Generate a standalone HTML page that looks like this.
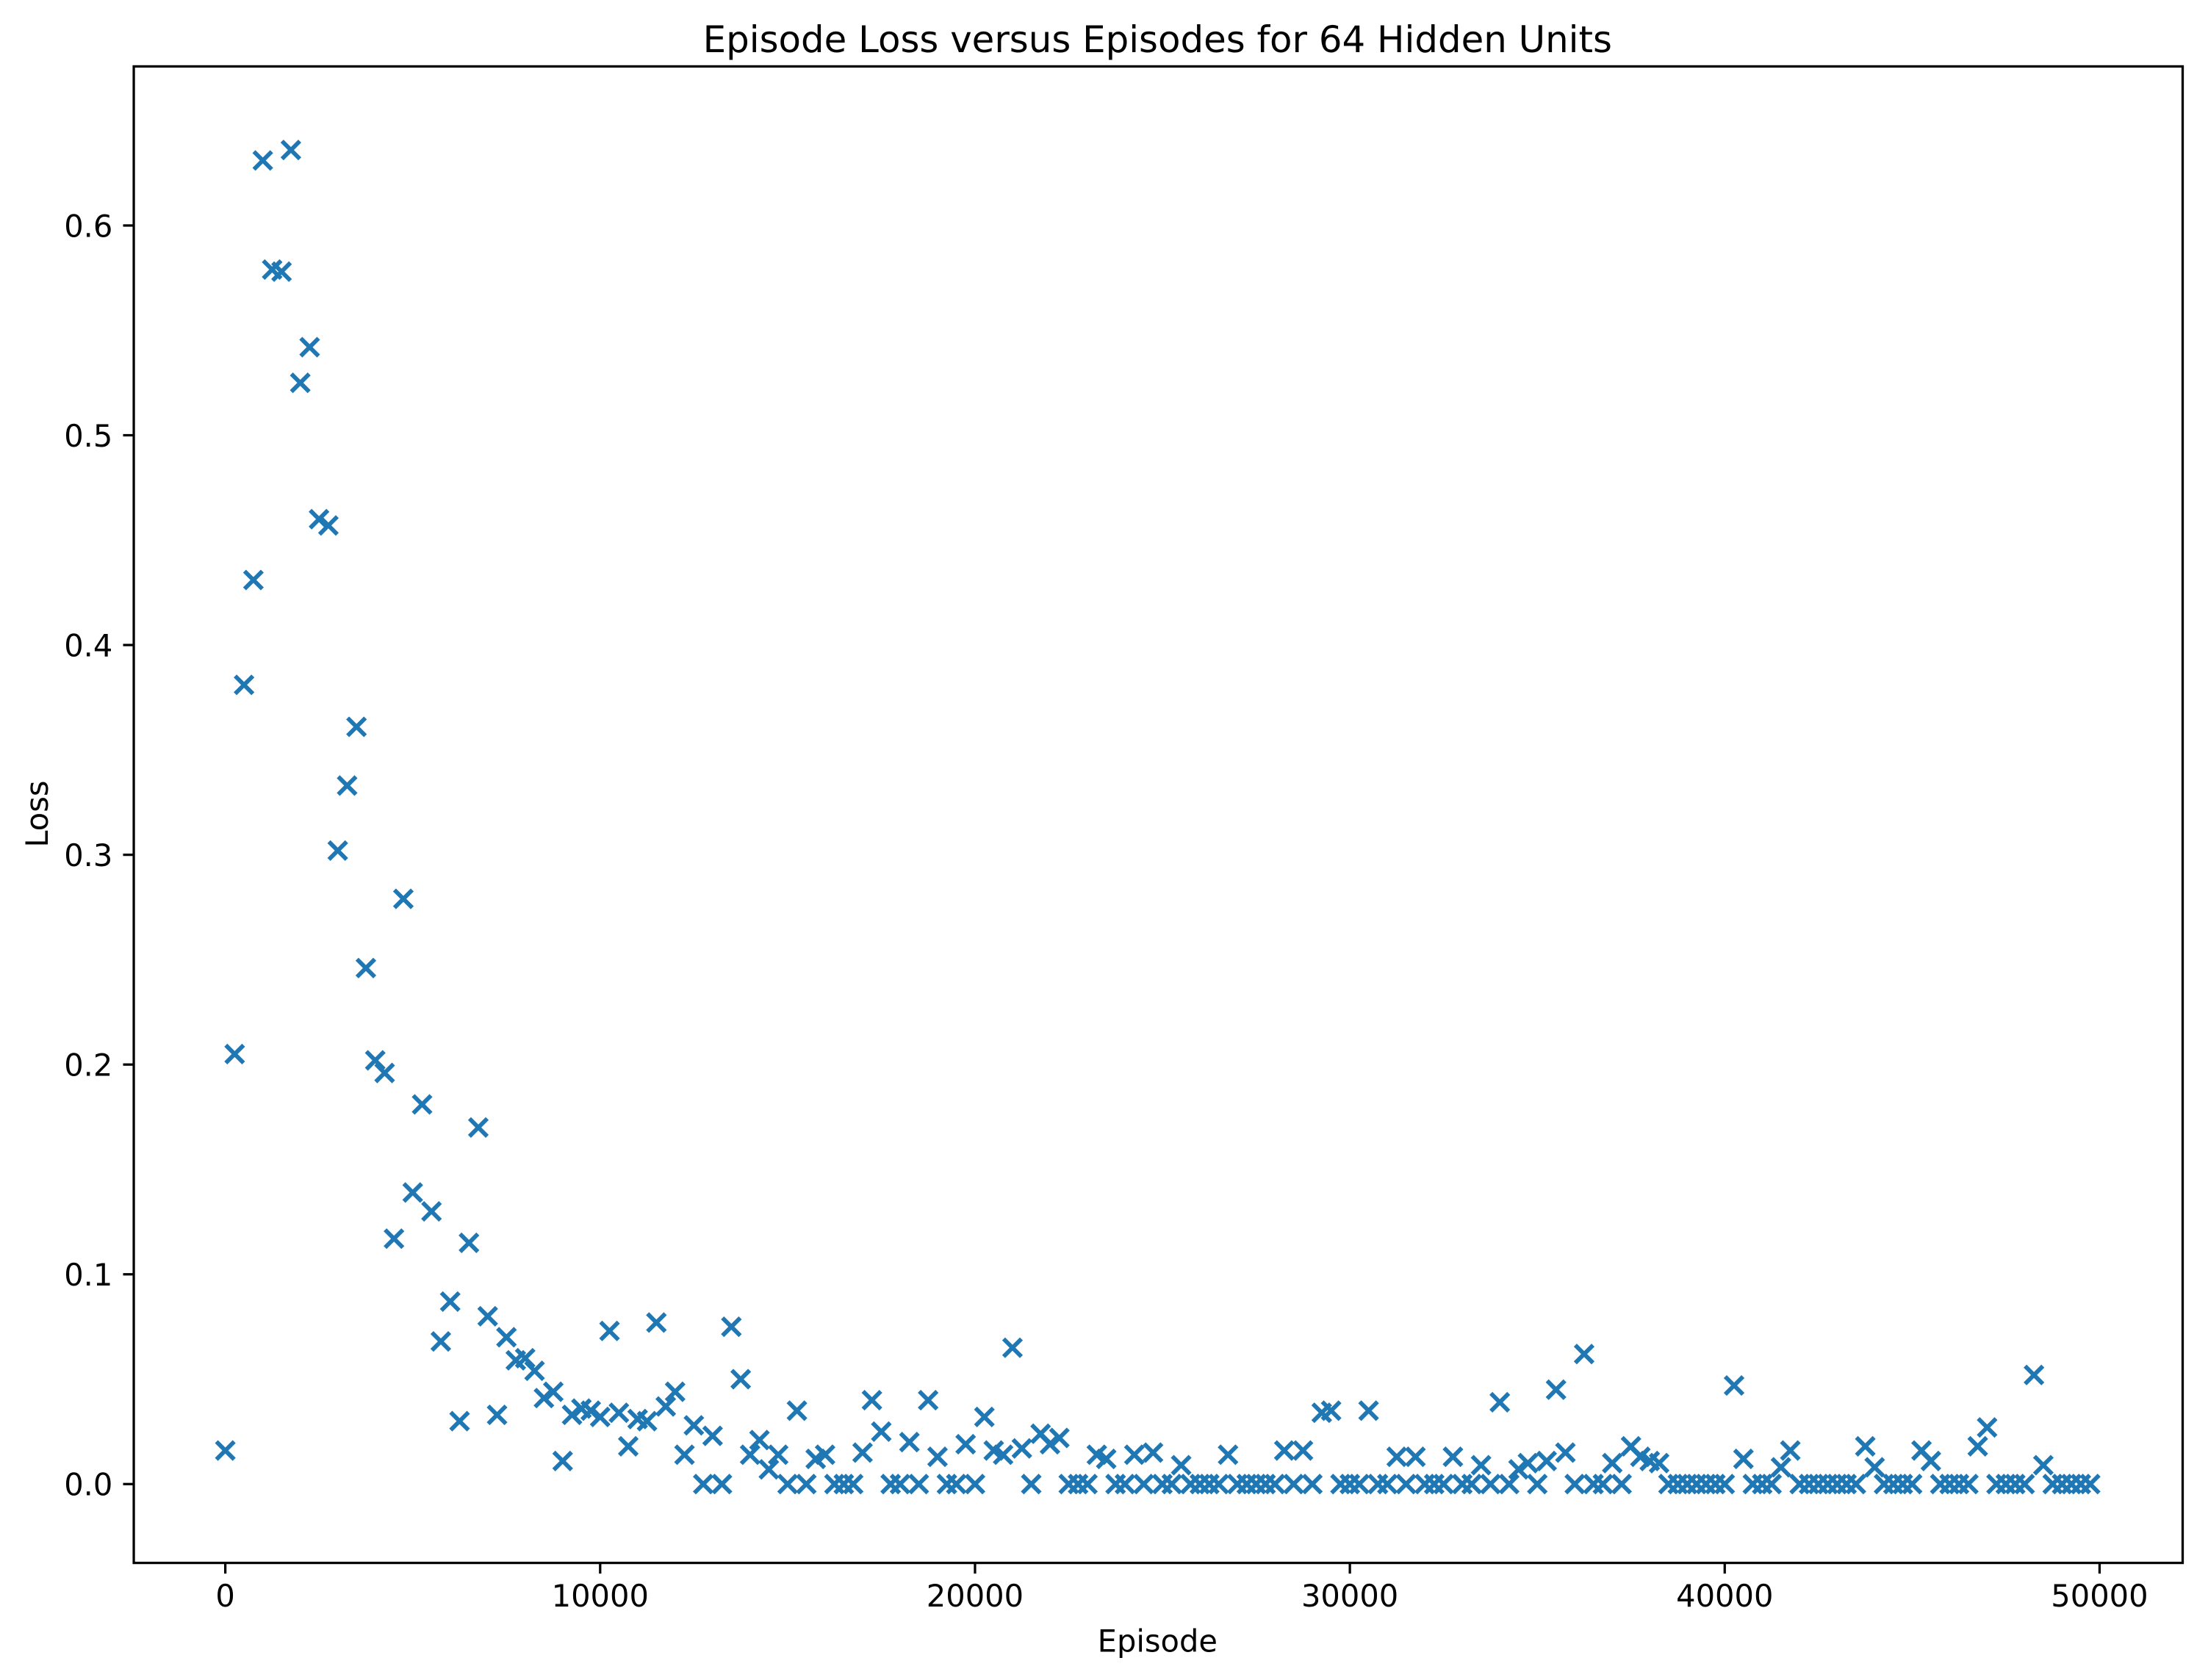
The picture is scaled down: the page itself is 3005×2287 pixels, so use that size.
<!DOCTYPE html>
<html><head><meta charset="utf-8"><style>
html,body{margin:0;padding:0;background:#fff}
svg{display:block}
text{font-family:"DejaVu Sans","Liberation Sans",sans-serif;fill:#000}
</style></head><body>
<svg id="chart" width="3005" height="2287" viewBox="0 0 1568 1193" xmlns="http://www.w3.org/2000/svg">
<rect width="1568" height="1193" fill="#fff"/>
<text x="822" y="37" font-size="26" text-anchor="middle">Episode Loss versus Episodes for 64 Hidden Units</text>
<g id="plot"></g>
<rect x="95" y="47" width="1455" height="1063" fill="none" stroke="#000" stroke-width="1.7"/>
<text x="822" y="1173" font-size="21.7" text-anchor="middle">Episode</text>
<text x="0" y="0" font-size="21.7" text-anchor="middle" transform="translate(34,578) rotate(-90)">Loss</text>
</svg>
<script>
const xTicks = [0, 10000, 20000, 30000, 40000, 50000];
const yTicks = [0.0, 0.1, 0.2, 0.3, 0.4, 0.5, 0.6];
const yTickLabels = ["0.0", "0.1", "0.2", "0.3", "0.4", "0.5", "0.6"];
const episodeStep = 250;
const lossValues = [
.016,.205,.381,.431,.631,.579,.578,.636,.525,.542,
.46,.457,.302,.333,.361,.246,.202,.196,.117,.279,
.139,.181,.130,.068,.087,.030,.115,.170,.080,.033,
.070,.059,.060,.054,.041,.044,.011,.033,.036,.035,
.032,.073,.034,.018,.031,.030,.077,.037,.044,.014,
.028,0,.023,0,.075,.050,.014,.021,.007,.014,
0,.035,0,.012,.014,0,0,0,.015,.040,
.025,0,0,.020,0,.040,.013,0,0,.019,
0,.032,.016,.014,.065,.017,0,.024,.019,.022,
0,0,0,.014,.012,0,0,.014,0,.015,
0,0,.009,0,0,0,0,.014,0,0,
0,0,0,.016,0,.016,0,.034,.035,0,
0,0,.035,0,0,.013,0,.013,0,0,
0,.013,0,0,.009,0,.039,0,.007,.010,
0,.011,.045,.015,0,.062,0,0,.010,0,
.018,.013,.011,.010,0,0,0,0,0,0,
0,.047,.012,0,0,0,.008,.016,0,0,
0,0,0,0,0,.018,.008,0,0,0,
0,.016,.011,0,0,0,0,.018,.027,0,
0,0,0,.052,.009,0,0,0,0,0
];
const NS = "http://www.w3.org/2000/svg";
const xScale = v => 160 + (v / 50000) * (1491 - 160);
const yScale = v => 1054 - (v / 0.6) * (1054 - 160);
const g = document.getElementById('plot');
function mk(tag, attrs) { const e = document.createElementNS(NS, tag); for (const k in attrs) e.setAttribute(k, attrs[k]); return e; }
xTicks.forEach(t => {
  const x = xScale(t);
  const l = mk('line', {x1: x, x2: x, y1: 1110, y2: 1117.6, stroke: '#000', 'stroke-width': 1.7});
  
  
  g.appendChild(l);
  const tx = mk('text', {x: x, y: 1141, 'font-size': 21.7, 'text-anchor': 'middle'});
  
  
  tx.textContent = String(t);
  g.appendChild(tx);
});
yTicks.forEach((t, i) => {
  const y = yScale(t);
  const l = mk('line', {x1: 87.4, x2: 95, y1: y, y2: y, stroke: '#000', 'stroke-width': 1.7});
  
  
  g.appendChild(l);
  const tx = mk('text', {x: 80, y: y + 8, 'font-size': 21.7, 'text-anchor': 'end'});
  
  
  tx.textContent = yTickLabels[i];
  g.appendChild(tx);
});
const s = 6.3;
lossValues.forEach((v, i) => {
  const cx = xScale(i * episodeStep), cy = yScale(v);
  const p = mk('path', {d: `M${cx-s},${cy-s}L${cx+s},${cy+s}M${cx-s},${cy+s}L${cx+s},${cy-s}`, stroke: '#1f77b4', 'stroke-width': 3, fill: 'none'});
  
  
  g.appendChild(p);
});
</script>
</body></html>
